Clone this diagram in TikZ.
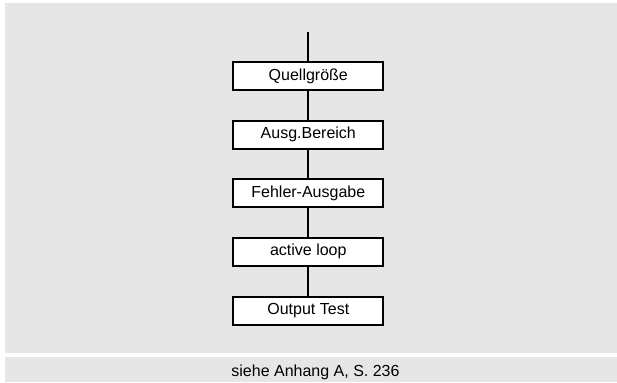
\documentclass[tikz,border=0pt]{standalone}
\usepackage{fontspec}
\setmainfont{Liberation Sans}
\definecolor{panelgray}{RGB}{230,230,230}
\begin{document}
\begin{tikzpicture}[x=1pt,y=-1pt,
  stepbox/.style={draw=black,line width=2pt,fill=white,minimum width=150pt,minimum height=28pt,inner sep=0pt,font=\fontsize{16}{19}\selectfont,anchor=center},
  conn/.style={draw=black,line width=2pt}]
\useasboundingbox (0,0) rectangle (617,382);
\fill[white] (0,0) rectangle (617,382);
\fill[panelgray] (5,3) rectangle (617,353.3);
\fill[panelgray] (5,357) rectangle (617,382);
\coordinate (top) at (308.3,32);
\node[stepbox] (q) at (308.3,76.3) {Quellgröße};
\node[stepbox] (a) at (308.3,134.8) {Ausg.Bereich};
\node[stepbox] (f) at (308.3,193.3) {Fehler-Ausgabe};
\node[stepbox] (l) at (308.3,251.8) {active loop};
\node[stepbox] (o) at (308.3,310.5) {Output Test};
\draw[conn] (top) -- (q.north);
\draw[conn] (q) -- (a);
\draw[conn] (a) -- (f);
\draw[conn] (f) -- (l);
\draw[conn] (l) -- (o);
\node[font=\fontsize{16}{19}\selectfont,inner sep=0pt,anchor=base] (cap) at (315.5,376) {siehe Anhang A, S. 236};
\end{tikzpicture}
\end{document}
